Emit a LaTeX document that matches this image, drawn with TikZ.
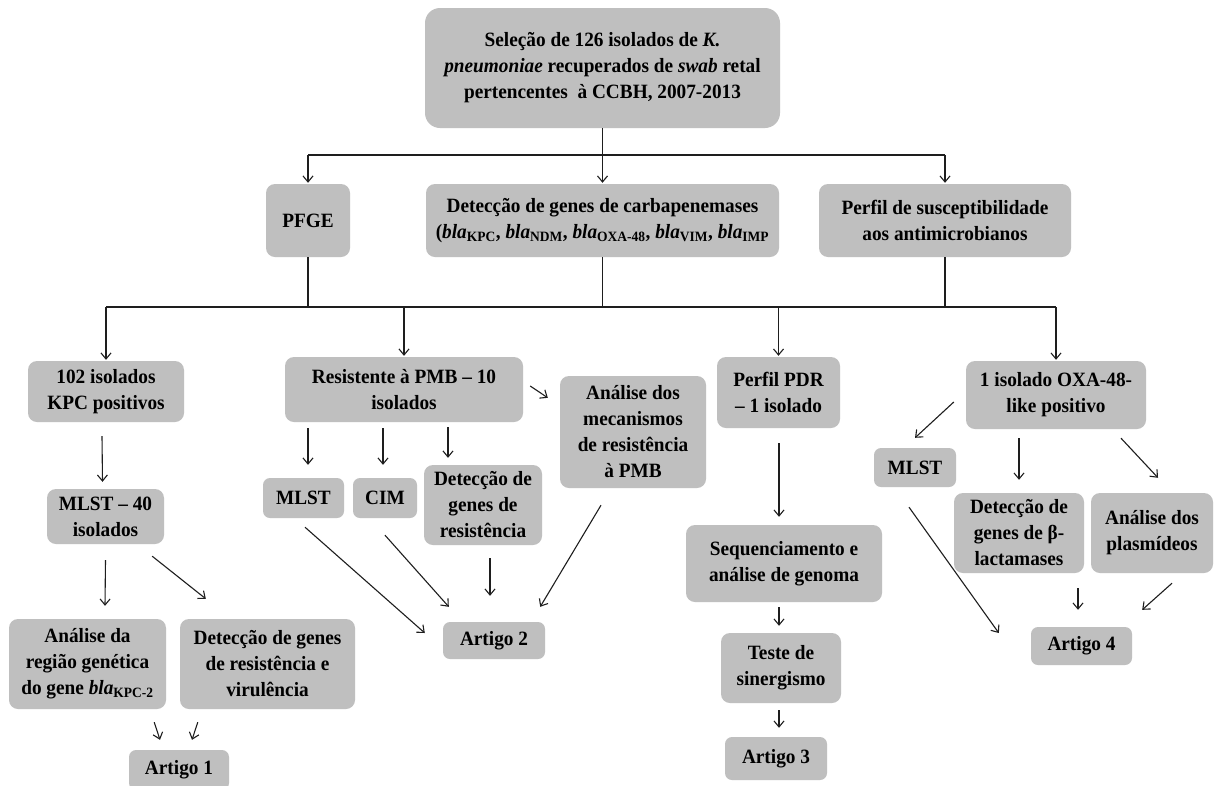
\documentclass[tikz,border=0pt]{standalone}
\usepackage{fontspec}
\setmainfont{Liberation Serif}[FakeStretch=0.95]
\usetikzlibrary{arrows.meta,calc}
\definecolor{boxgray}{RGB}{191,191,191}
\definecolor{linegray}{RGB}{30,30,30}
\tikzset{
  box/.style={fill=boxgray, rounded corners=9pt, inner sep=0pt, align=center,
    font=\fontsize{20.3}{26}\selectfont\bfseries, text=black},
  conn/.style={draw=linegray, line width=1.1pt},
  arr/.style={conn, -{Straight Barb[length=6pt,width=10pt,line width=1.1pt]}},
}
\newcommand{\bla}[1]{\textit{bla}\textsubscript{#1}}
\begin{document}
\begin{tikzpicture}[x=1pt,y=-1pt]
\clip (0,0) rectangle (1214,785);
\fill[white] (0,0) rectangle (1214,785);
% level 0
\node[box, minimum width=355pt, minimum height=120pt, rounded corners=15pt] (top) at (602.5,68)
  {Seleção de 126 isolados de \textit{K.}\\ \textit{pneumoniae} recuperados de \textit{swab} retal\\ pertencentes \ à CCBH, 2007-2013};
% level 1
\node[box, minimum width=84pt, minimum height=73pt] (pfge) at (308,220.5) {PFGE};
\node[box, minimum width=353pt, minimum height=73pt] (det) at (602.5,220.5)
  {Detecção de genes de carbapenemases\\ (\bla{KPC}, \bla{NDM}, \bla{OXA-48}, \bla{VIM}, \bla{IMP}};
\node[box, minimum width=252pt, minimum height=73pt] (perf) at (945,220.5)
  {Perfil de susceptibilidade\\ aos antimicrobianos};
% level 2
\node[box, minimum width=156pt, minimum height=61pt] (kpc) at (106,391.5) {102 isolados\\ KPC positivos};
\node[box, minimum width=238pt, minimum height=65pt] (res) at (404,389.5) {Resistente à PMB – 10\\ isolados};
\node[box, minimum width=146pt, minimum height=112pt] (mec) at (633,432) {Análise dos\\ mecanismos\\ de resistência\\ à PMB};
\node[box, minimum width=123pt, minimum height=71pt] (pdr) at (778.5,392.5) {Perfil PDR\\ – 1 isolado};
\node[box, minimum width=180pt, minimum height=68pt] (oxa) at (1056,395) {1 isolado OXA-48-\\ like positivo};
% level 3
\node[box, minimum width=117pt, minimum height=55pt] (mlst40) at (105.5,516.5) {MLST – 40\\ isolados};
\node[box, minimum width=81pt, minimum height=40pt, rounded corners=7pt] (mlstA) at (303.5,498) {MLST};
\node[box, minimum width=64pt, minimum height=40pt, rounded corners=7pt] (cim) at (385,498) {CIM};
\node[box, minimum width=118pt, minimum height=80pt] (detres) at (483,505) {Detecção de\\ genes de\\ resistência};
\node[box, minimum width=82pt, minimum height=39pt, rounded corners=7pt] (mlstB) at (915,467.5) {MLST};
\node[box, minimum width=130pt, minimum height=80pt] (detbeta) at (1019,533) {Detecção de\\ genes de β-\\ lactamases};
\node[box, minimum width=122pt, minimum height=80pt] (plas) at (1152,533) {Análise dos\\ plasmídeos};
\node[box, minimum width=196pt, minimum height=77pt] (seq) at (784,563.5) {Sequenciamento e\\ análise de genoma};
% level 4
\node[box, minimum width=157pt, minimum height=90pt] (regiao) at (87.5,664) {Análise da\\ região genética\\ do gene \bla{KPC-2}};
\node[box, minimum width=175pt, minimum height=90pt] (detvir) at (267.5,664) {Detecção de genes\\ de resistência e\\ virulência};
\node[box, minimum width=102pt, minimum height=37pt, rounded corners=7pt] (art2) at (494,640.5) {Artigo 2};
\node[box, minimum width=120pt, minimum height=70pt] (teste) at (781,668) {Teste de\\ sinergismo};
\node[box, minimum width=101pt, minimum height=38pt, rounded corners=7pt] (art4) at (1081.5,646) {Artigo 4};
\node[box, minimum width=102pt, minimum height=43pt, rounded corners=7pt] (art3) at (776,758.5) {Artigo 3};
\node[box, minimum width=100pt, minimum height=40pt, rounded corners=7pt] (art1) at (179,770) {Artigo 1};
% top distribution
\coordinate (j1) at (602.5,155);
\draw[conn] (top.south) -- (j1);
\draw[conn] (pfge.north |- j1) -- (perf.north |- j1);
\draw[arr] (pfge.north |- j1) -- ($(pfge.north)+(0,-1)$);
\draw[arr] (j1) -- ($(det.north)+(0,-1)$);
\draw[arr] (perf.north |- j1) -- ($(perf.north)+(0,-1)$);
% collection line
\coordinate (j2) at (602.5,307);
\draw[conn] (pfge.south) -- (pfge.south |- j2);
\draw[conn] (det.south) -- (j2);
\draw[conn] (perf.south) -- (perf.south |- j2);
\draw[conn, line width=1.4pt] (kpc.north |- j2) -- (oxa.north |- j2);
\draw[arr] (kpc.north |- j2) -- ($(kpc.north)+(0,-1)$);
\draw[arr] (res.north |- j2) -- ($(res.north)+(0,-1)$);
\draw[arr] (pdr.north |- j2) -- ($(pdr.north)+(0,-1)$);
\draw[arr] (oxa.north |- j2) -- ($(oxa.north)+(0,-1)$);
% branch 1
\draw[arr] ($(kpc.south)+(-4,14)$) -- ($(mlst40.north)+(-3,-7)$);
\draw[arr] ($(mlst40.south)+(0,16)$) -- ($(regiao.north)+(17.5,-13)$);
\draw[arr] ($(mlst40.south east)+(-12,12)$) -- ($(detvir.north west)+(26,-20)$);
\draw[arr] ($(regiao.south east)+(-12,13)$) -- ($(art1.north)+(-19,-10)$);
\draw[arr] ($(detvir.south west)+(18,13)$) -- ($(art1.north)+(13,-10)$);
% branch 2
\draw[arr] ($(res.south)+(-96,6)$) -- ($(mlstA.north)+(4.5,-13)$);
\draw[arr] ($(res.south)+(-21,6)$) -- ($(cim.north)+(-2,-13)$);
\draw[arr] ($(res.south)+(44,5)$) -- ($(detres.north)+(-35,-7)$);
\draw[arr] ($(res.east)+(7,-3.5)$) -- ($(mec.north west)+(-12,22)$);
\draw[arr] ($(mlstA.south)+(1.5,9)$) -- ($(art2.west)+(-18,-7.5)$);
\draw[arr] ($(cim.south)+(0,17)$) -- ($(art2.north west)+(6,-15)$);
\draw[arr] ($(detres.south)+(7,13)$) -- ($(art2.north)+(-4,-26)$);
\draw[arr] ($(mec.south)+(-32,17)$) -- ($(art2.north east)+(-5,-15)$);
% branch 3
\draw[arr] ($(pdr.south)+(0.5,15)$) -- ($(seq.north)+(-5,-8)$);
\draw[arr] ($(seq.south)+(-5,5)$) -- ($(teste.north)+(-2,-7)$);
\draw[arr] ($(teste.south)+(-2,7)$) -- ($(art3.north)+(3,-9)$);
% branch 4
\draw[arr] ($(oxa.west)+(-12,7)$) -- ($(mlstB.north)+(0,-10)$);
\draw[arr] ($(oxa.south)+(-37,9)$) -- ($(detbeta.north)+(0,-13)$);
\draw[arr] ($(oxa.south)+(65,9)$) -- ($(plas.north)+(6,-15)$);
\draw[arr] ($(mlstB.south)+(-6,20)$) -- ($(art4.west)+(-32,-13)$);
\draw[arr] ($(detbeta.south)+(59,15)$) -- ($(art4.north)+(-3.5,-17)$);
\draw[arr] ($(plas.south)+(20,10)$) -- ($(art4.north east)+(10,-17)$);
\end{tikzpicture}
\end{document}
